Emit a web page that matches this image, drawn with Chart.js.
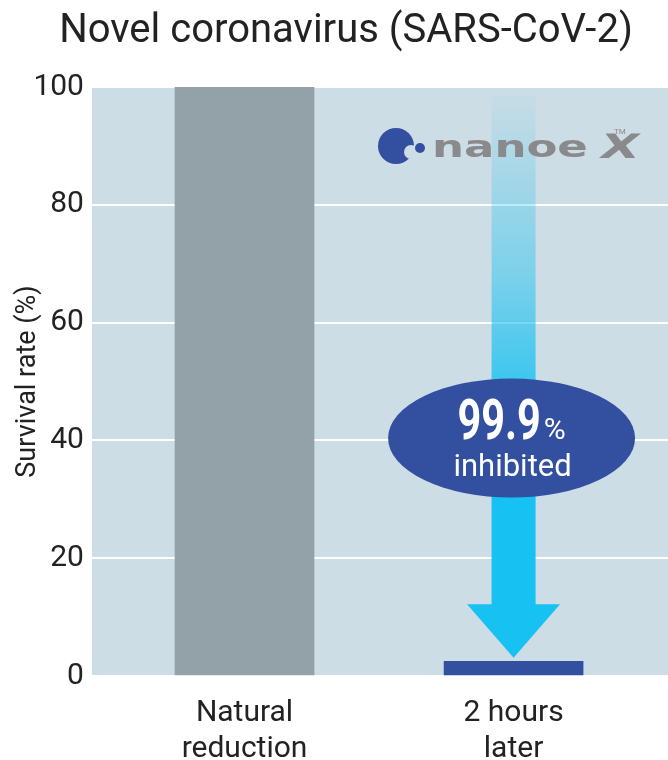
<!DOCTYPE html>
<html>
<head>
<meta charset="utf-8">
<script src="https://cdn.jsdelivr.net/npm/chart.js@4.4.1/dist/chart.umd.min.js"></script>
<style>
  html, body { margin: 0; padding: 0; background: #fff; }
  #wrap { width: 668px; height: 760px; }
</style>
</head>
<body>
<div id="wrap"><canvas id="chart" width="668" height="760"></canvas></div>
<script>
// Chart data
const categories = [['Natural', 'reduction'], ['2 hours', 'later']];
const survivalRate = [100, 2.5];
const barColors = ['#93a2a9', '#324fa0'];
const yTicks = [0, 20, 40, 60, 80, 100];
const inhibitedLabel = '99.9';

const FONT = "Roboto, 'DejaVu Sans', sans-serif";
const PLOT_BG = '#cddde5';
const CYAN = '23, 193, 241';

// plot background behind the grid
const plotBackground = {
    id: 'plotBackground',
    beforeDraw(chart) {
        const { ctx, chartArea: a } = chart;
        ctx.save();
        ctx.fillStyle = PLOT_BG;
        ctx.fillRect(a.left, a.top, a.right - a.left, a.bottom - a.top);
        ctx.restore();
    }
};

// arrow, ellipse badge and logo on top of the bars
const overlay = {
    id: 'overlay',
    afterDatasetsDraw(chart) {
        const { ctx, scales } = chart;
        const cx = scales.x.getPixelForValue(1);
        const yPix = v => scales.y.getPixelForValue(v);

        // arrow
        const top = yPix(98.6), headTop = yPix(12.2), tip = yPix(3.1);
        const grad = ctx.createLinearGradient(0, top, 0, yPix(30));
        grad.addColorStop(0, `rgba(${CYAN}, 0.03)`);
        grad.addColorStop(0.45, `rgba(${CYAN}, 0.45)`);
        grad.addColorStop(0.75, `rgba(${CYAN}, 0.85)`);
        grad.addColorStop(1, `rgba(${CYAN}, 1)`);
        ctx.save();
        ctx.fillStyle = grad;
        ctx.beginPath();
        ctx.moveTo(cx - 22, top);
        ctx.lineTo(cx + 22, top);
        ctx.lineTo(cx + 22, headTop);
        ctx.lineTo(cx + 46.5, headTop);
        ctx.lineTo(cx, tip);
        ctx.lineTo(cx - 46.5, headTop);
        ctx.lineTo(cx - 22, headTop);
        ctx.closePath();
        ctx.fill();

        // ellipse badge
        const ey = yPix(40.4);
        const ex = cx - 2;
        ctx.fillStyle = '#324fa0';
        ctx.beginPath();
        ctx.ellipse(ex, ey, 123.5, 59.5, 0, 0, Math.PI * 2);
        ctx.fill();

        ctx.fillStyle = '#ffffff';
        ctx.textBaseline = 'alphabetic';
        ctx.textAlign = 'left';
        const bigFont = "bold 56px Roboto, 'DejaVu Sans', sans-serif";
        const squeeze = 0.74;
        ctx.font = bigFont;
        const bigW = ctx.measureText(inhibitedLabel).width * squeeze;
        ctx.font = '30px ' + FONT;
        const pctW = ctx.measureText('%').width;
        const x0 = ex - (bigW + pctW + 3) / 2;
        ctx.save();
        ctx.translate(x0, ey + 1);
        ctx.scale(squeeze, 1);
        ctx.font = bigFont;
        ctx.fillText(inhibitedLabel, 0, 0);
        ctx.restore();
        ctx.font = '30px ' + FONT;
        ctx.fillText('%', x0 + bigW + 3, ey + 1);
        ctx.textAlign = 'center';
        ctx.font = '31px ' + FONT;
        ctx.fillText('inhibited', ex + 1, ey + 38);

        // nanoe X logo
        const lx = 396, ly = 146;
        ctx.fillStyle = '#334fa0';
        ctx.beginPath();
        ctx.arc(lx, ly, 18, 0, Math.PI * 2);
        ctx.fill();
        ctx.fillStyle = PLOT_BG;
        ctx.beginPath();
        ctx.arc(lx + 15, ly + 6, 7, 0, Math.PI * 2);
        ctx.fill();
        ctx.fillStyle = '#334fa0';
        ctx.beginPath();
        ctx.arc(lx + 24, ly + 2, 5, 0, Math.PI * 2);
        ctx.fill();

        ctx.fillStyle = '#8a8a8c';
        ctx.textAlign = 'left';
        ctx.save();
        ctx.translate(432, ly + 11);
        ctx.scale(1.5, 1);
        ctx.font = "bold 30px 'DejaVu Sans', sans-serif";
        ctx.fillText('nanoe', 0, 0);
        ctx.restore();
        ctx.save();
        ctx.translate(598, ly + 12);
        ctx.transform(1, 0, -0.25, 1, 0, 0);
        ctx.scale(1.55, 1.05);
        ctx.font = "bold 32px 'DejaVu Sans', sans-serif";
        ctx.fillText('X', 0, 0);
        ctx.restore();
        ctx.font = '8px ' + FONT;
        ctx.fillText('TM', 614, 134);
        ctx.restore();
    }
};

new Chart(document.getElementById('chart'), {
    type: 'bar',
    data: {
        datasets: [{
            data: survivalRate.map((v, i) => ({ x: i, y: v })),
            backgroundColor: barColors,
            borderWidth: 0,
            barThickness: 139
        }]
    },
    plugins: [plotBackground, overlay],
    options: {
        responsive: false,
        animation: false,
        layout: { padding: { left: 24, right: 0, top: 0, bottom: -18 } },
        plugins: {
            legend: { display: false },
            tooltip: { enabled: false },
            title: {
                display: true,
                text: 'Novel coronavirus (SARS-CoV-2)',
                color: '#222',
                font: { family: FONT, size: 40, weight: 'normal' },
                padding: { top: 8, bottom: 31 }
            }
        },
        scales: {
            x: {
                type: 'linear',
                offset: false,
                min: -0.567,
                max: 1.574,
                grid: { display: false },
                border: { display: false },
                afterBuildTicks: axis => { axis.ticks = categories.map((c, i) => ({ value: i })); },
                ticks: {
                    color: '#222',
                    font: { family: FONT, size: 30, lineHeight: 1.2 },
                    padding: 11,
                    maxRotation: 0,
                    autoSkip: false,
                    callback: v => categories[v]
                }
            },
            y: {
                min: 0,
                max: 100,
                afterBuildTicks: axis => { axis.ticks = yTicks.map(v => ({ value: v })); },
                grid: { color: '#ffffff', lineWidth: 2, drawTicks: false },
                border: { display: false },
                ticks: {
                    color: '#222',
                    font: { family: FONT, size: 30 },
                    padding: 8
                },
                title: {
                    display: true,
                    text: 'Survival rate (%)',
                    color: '#222',
                    font: { family: FONT, size: 27 },
                    padding: { top: -12, bottom: -19 }
                }
            }
        }
    }
});
</script>
</body>
</html>
